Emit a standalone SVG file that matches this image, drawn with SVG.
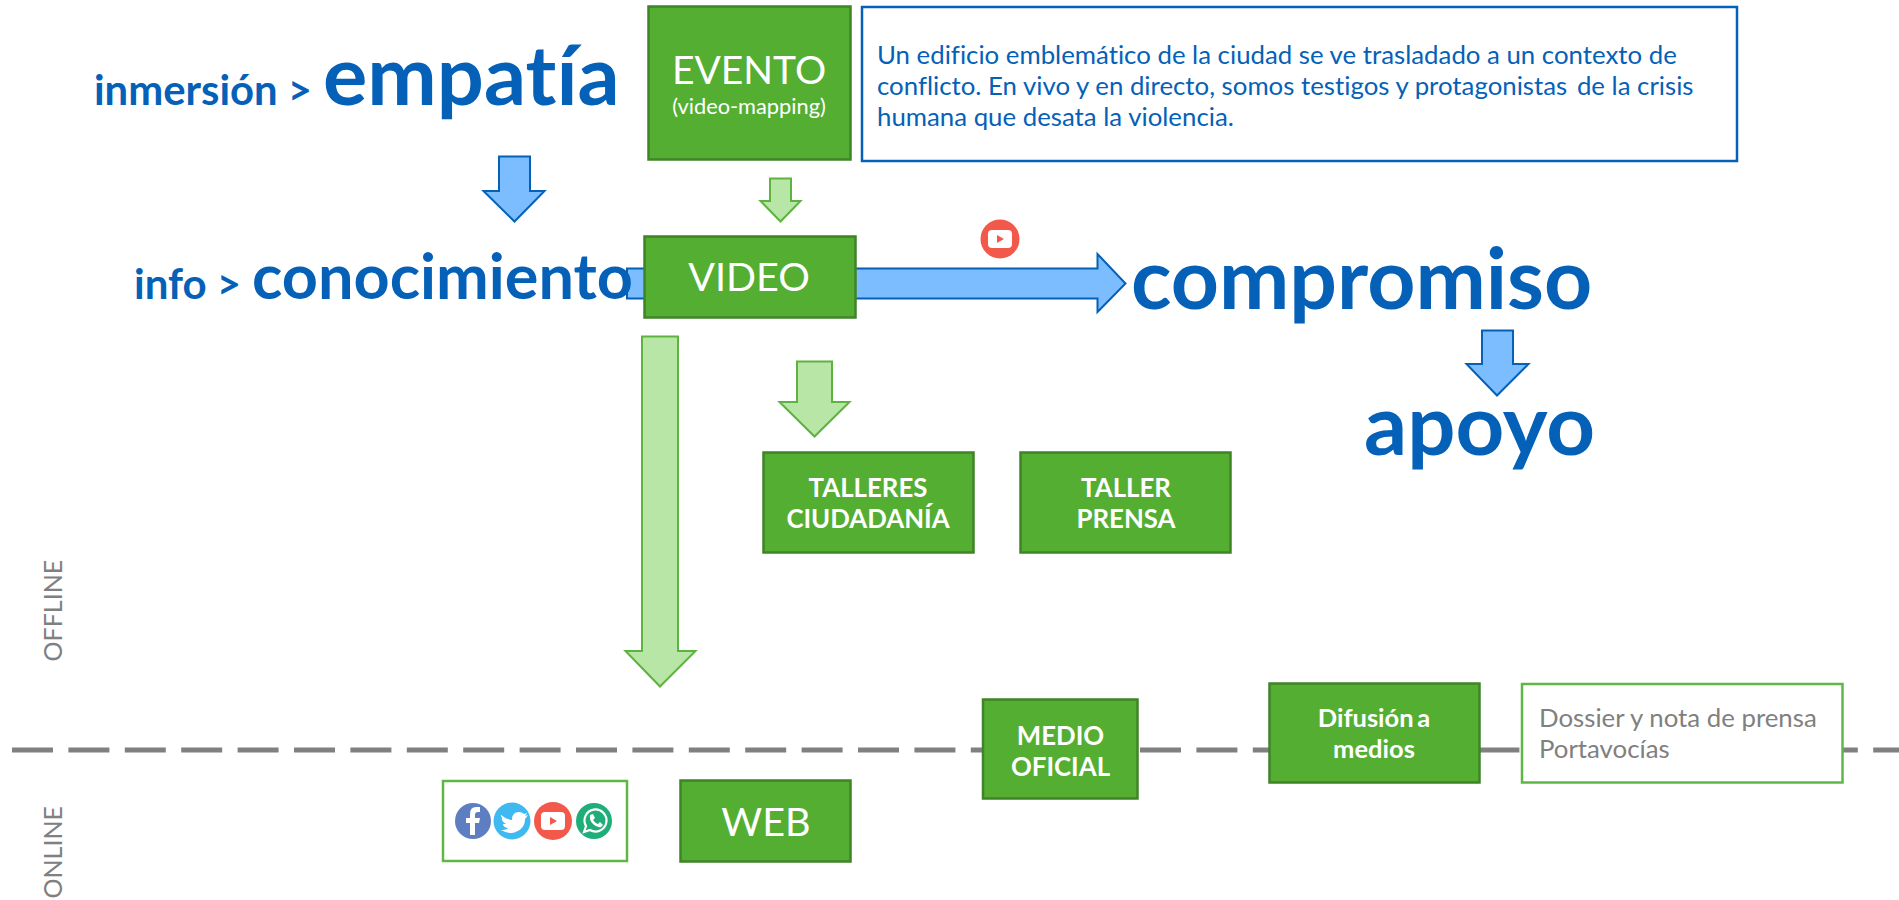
<svg xmlns="http://www.w3.org/2000/svg" width="1899" height="900" viewBox="0 0 1899 900">
<style>
text{font-family:"Lato","Carlito","Liberation Sans",sans-serif;font-variant-ligatures:none}
.g{fill:#53ae32;stroke:#3f8427;stroke-width:2.500}
.o{fill:#fff;stroke:#5fb845;stroke-width:2.500}
.ab{fill:#7cbdff;stroke:#0561b8;stroke-width:2}
.ag{fill:#b8e6a6;stroke:#5cb33e;stroke-width:2}
.h{fill:#0561b8;font-weight:700}
.w{fill:#fff;text-anchor:middle}
.wb{fill:#fff;text-anchor:middle;font-weight:700}
.gr{fill:#808080}
.ic{fill:#fff}
</style>
<g id="connectors">
<path id="divider" d="M12 750H1899" fill="none" stroke="#808080" stroke-width="5" stroke-dasharray="41 15.4"/>
<path class="ab" d="M627 268.500H1097.500V254L1125.500 283.500L1097.500 312V298.500H627Z"/>
<path class="ab" d="M499 156.500H530V191H544.500L514.500 221.500L483.500 191H499Z"/>
<path class="ab" d="M1482 330.500H1513V364H1528.500L1497 395.500L1466.500 364H1482Z"/>
<path class="ag" d="M770 178.500H791V201H800.500L780.500 221.500L760.500 201H770Z"/>
<path class="ag" d="M797 361.500H832V402H849.500L814.500 436.500L779.500 402H797Z"/>
<path class="ag" d="M642 336.500H678V651H695.500L660 686.500L625.500 651H642Z"/>
</g>
<g id="label-inmersion"><text class="h" x="94" y="105" font-size="41.800">inmersión &gt;</text></g>
<g id="label-empatia"><text class="h" x="323" y="105" font-size="83">empatía</text></g>
<g id="label-info"><text class="h" x="134" y="299" font-size="42">info &gt;</text></g>
<g id="label-conocimiento"><text class="h" x="252" y="299" font-size="63">conocimiento</text></g>
<g id="label-compromiso"><text class="h" x="1131" y="309" font-size="84">compromiso</text></g>
<g id="label-apoyo"><text class="h" x="1364" y="455" font-size="85">apoyo</text></g>
<g id="evento"><rect class="g" x="648.500" y="6.500" width="202" height="153"/><text class="w" x="749" y="84" font-size="39">EVENTO</text><text class="w" x="749" y="114" font-size="21.800">(video-mapping)</text></g>
<g id="descripcion"><rect x="862" y="7" width="875" height="154" fill="#fff" stroke="#0561b8" stroke-width="2.500"/>
<text fill="#0561b8" font-size="25.800"><tspan x="877" y="64">Un edificio emblemático de la ciudad se ve trasladado a un contexto de</tspan><tspan x="877" y="95">conflicto. En vivo y en directo, somos testigos y protagonistas<tspan dx="3"> de la crisis</tspan></tspan><tspan x="877" y="126">humana que desata la violencia.</tspan></text></g>
<g id="video"><rect class="g" x="644.500" y="236.500" width="211" height="81"/><text class="w" x="749" y="291" font-size="39.500">VIDEO</text></g>
<g id="youtube-top"><circle cx="1000" cy="239" r="19.500" fill="#f2594b"/><rect class="ic" x="988" y="230" width="24" height="18" rx="4"/><path d="M997 235L1004 239L997 243Z" fill="#f2594b"/></g>
<g id="talleres"><rect class="g" x="763.500" y="452.500" width="210" height="100"/><text class="wb" font-size="25.800"><tspan x="868" y="497">TALLERES</tspan><tspan x="868" y="528">CIUDADANÍA</tspan></text></g>
<g id="taller-prensa"><rect class="g" x="1020.500" y="452.500" width="210" height="100"/><text class="wb" font-size="25.800"><tspan x="1126" y="497">TALLER</tspan><tspan x="1126" y="528">PRENSA</tspan></text></g>
<g id="offline"><text class="gr" font-size="25" transform="translate(62 661.500) rotate(-90)">OFFLINE</text></g>
<g id="online"><text class="gr" font-size="25" transform="translate(62 898.500) rotate(-90)">ONLINE</text></g>
<g id="medio-oficial"><rect class="g" x="983" y="699.500" width="154.500" height="99"/><text class="wb" font-size="25.800"><tspan x="1060.500" y="744.500">MEDIO</tspan><tspan x="1060.500" y="775.500">OFICIAL</tspan></text></g>
<g id="difusion"><rect class="g" x="1269.500" y="683.500" width="210" height="99"/><text class="wb" font-size="25.500"><tspan x="1374" y="727" word-spacing="-2.500">Difusión a</tspan><tspan x="1374" y="757.500">medios</tspan></text></g>
<g id="dossier"><rect class="o" x="1522" y="684" width="320.500" height="98.500"/><text class="gr" font-size="25.800"><tspan x="1539" y="727">Dossier y nota de prensa</tspan><tspan x="1539" y="757.500">Portavocías</tspan></text></g>
<g id="redes"><rect class="o" x="443" y="781" width="184" height="80"/>
<circle cx="473" cy="821" r="18" fill="#5d7fc1"/><path class="ic" d="M475 835V823H479L480 818H475V815Q475 812 478 812H480V807H476Q470 807 470 814V818H466V823H470V835Z"/>
<circle cx="512" cy="821" r="18.500" fill="#3fbaf0"/><path class="ic" d="M501 815Q507 820 512 820Q512 812 519 812Q522 812 524 814L527 813L525 816L528 815Q526 818 525 819Q525 830 512 833Q506 833 501 830Q506 830 508 828Q503 827 503 824H506Q501 821 502 818L504 819Q500 817 501 815Z"/>
<circle cx="553" cy="821" r="19" fill="#f2594b"/><rect class="ic" x="541" y="812" width="24" height="18" rx="4"/><path d="M550 817L557 821L550 825Z" fill="#f2594b"/>
<circle cx="594" cy="821" r="18" fill="#1fae7a"/><path d="M584 832L586 826A11 11 0 1 1 590 830Z" fill="none" stroke="#fff" stroke-width="2.200"/><path class="ic" d="M590 815L593 814L595 818L593 820Q595 823 598 824L600 822L603 825L601 827Q597 828 593 824Q589 820 590 815Z"/></g>
<g id="web"><rect class="g" x="680.500" y="780.500" width="170" height="81"/><text class="w" x="766" y="836" font-size="39.500">WEB</text></g>
</svg>
